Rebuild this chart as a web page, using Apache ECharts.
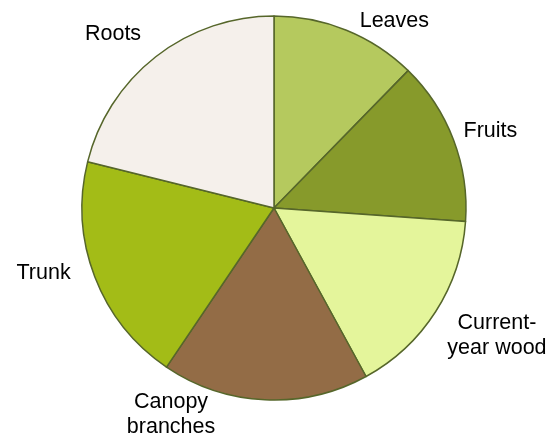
<!DOCTYPE html>
<html>
<head>
<meta charset="utf-8">
<script src="https://cdn.jsdelivr.net/npm/echarts@6/dist/echarts.min.js"></script>
<style>html,body{margin:0;padding:0;background:#fff}#c{width:560px;height:446px}</style>
</head>
<body>
<div id="c"></div>
<script>
const categories = ['Leaves', 'Fruits', 'Current-\nyear wood', 'Canopy\nbranches', 'Trunk', 'Roots'];
const values = [12.3, 13.8, 15.9, 17.4, 19.4, 21.1];
const colors = ['#b5c95e', '#879a2b', '#e4f59b', '#936c46', '#a3bc17', '#f5f0eb'];
// label nudges relative to the library's outside-label position
const labelNudge = [[-17, 4], [-28, -4], [-25, 16], [-24, 1], [14, -9], [19, -12]];

const chart = echarts.init(document.getElementById('c'), null, {renderer: 'canvas'});
chart.setOption({
  animation: false,
  series: [{
    type: 'pie',
    center: [274, 208],
    radius: 192,
    startAngle: 90,
    clockwise: true,
    avoidLabelOverlap: false,
    itemStyle: {borderColor: '#56662a', borderWidth: 1.5},
    label: {
      show: true,
      position: 'outside',
      fontFamily: 'Liberation Sans, Arial, sans-serif',
      fontSize: 21.5,
      lineHeight: 25,
      color: '#000'
    },
    labelLine: {show: false, length: 14, length2: 20},
    labelLayout: function (p) {
      const r = p.labelRect;
      const n = labelNudge[p.dataIndex];
      return {
        x: r.x + r.width / 2 + n[0],
        y: r.y + r.height / 2 + n[1],
        align: 'center',
        verticalAlign: 'middle'
      };
    },
    emphasis: {disabled: true},
    data: categories.map((c, i) => ({name: c, value: values[i], itemStyle: {color: colors[i]}}))
  }]
});
</script>
</body>
</html>
